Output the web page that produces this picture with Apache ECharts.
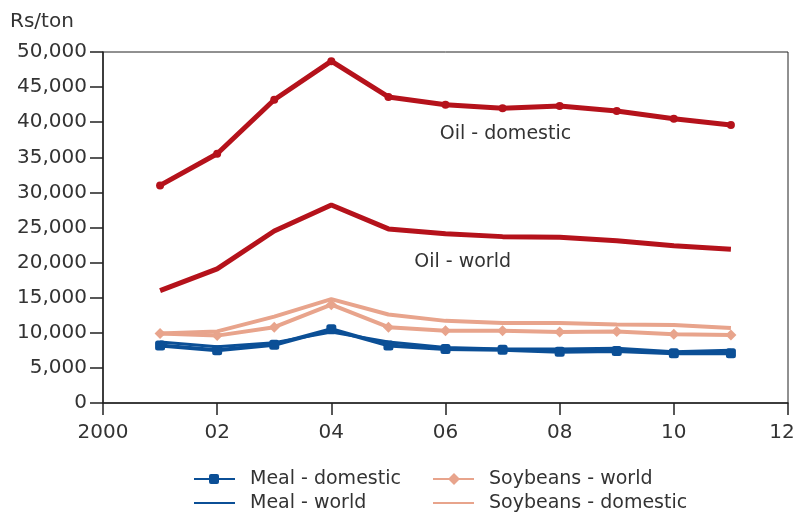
<!DOCTYPE html>
<html>
<head>
<meta charset="utf-8">
<script src="https://cdn.jsdelivr.net/npm/echarts@6/dist/echarts.min.js"></script>
<style>html,body{margin:0;padding:0;background:#fff}#c{width:794px;height:515px}</style>
</head>
<body>
<div id="c"></div>
<script>
var years = [2001, 2002, 2003, 2004, 2005, 2006, 2007, 2008, 2009, 2010, 2011];
var oilDomestic = [31000, 35500, 43200, 48700, 43600, 42500, 42000, 42300, 41600, 40500, 39600];
var oilWorld = [16000, 19100, 24500, 28200, 24800, 24100, 23700, 23600, 23100, 22400, 21900];
var soyWorld = [9900, 9600, 10800, 14000, 10800, 10300, 10300, 10100, 10200, 9800, 9700];
var soyDomestic = [9900, 10200, 12300, 14800, 12600, 11700, 11400, 11400, 11200, 11100, 10700];
var mealDomestic = [8200, 7500, 8300, 10500, 8200, 7700, 7600, 7300, 7400, 7100, 7100];
var mealWorld = [8700, 8000, 8600, 10100, 8700, 7900, 7700, 7700, 7800, 7300, 7500];
var xTickLabels = {2000: '2000', 2002: '02', 2004: '04', 2006: '06', 2008: '08', 2010: '10', 2012: '12'};
var legendItems = [
  { name: 'Meal - domestic', col: 0, row: 0, color: '#0b4f96', marker: 'square' },
  { name: 'Meal - world', col: 0, row: 1, color: '#0b4f96', marker: null },
  { name: 'Soybeans - world', col: 1, row: 0, color: '#e8a48c', marker: 'diamond' },
  { name: 'Soybeans - domestic', col: 1, row: 1, color: '#e8a48c', marker: null }
];

function pairs(vals) { return years.map(function (y, i) { return [y, vals[i]]; }); }

var RED = '#b5121b', SALMON = '#e8a48c', BLUE = '#0b4f96', TXT = '#333';
var FONT = 'DejaVu Sans, sans-serif';

// legend drawn as graphic elements
var legendGraphics = [];
var colX = [194, 433], rowY = [479, 503];
legendItems.forEach(function (it) {
  var x0 = colX[it.col], y0 = rowY[it.row];
  legendGraphics.push({ type: 'line', shape: { x1: x0, y1: y0, x2: x0 + 41, y2: y0 },
    style: { stroke: it.color, lineWidth: 2 } });
  if (it.marker === 'square') {
    legendGraphics.push({ type: 'rect', shape: { x: x0 + 15, y: y0 - 5, width: 10, height: 10, r: 2 },
      style: { fill: it.color } });
  } else if (it.marker === 'diamond') {
    legendGraphics.push({ type: 'polygon', shape: { points: [[x0 + 21, y0 - 6], [x0 + 27, y0], [x0 + 21, y0 + 6], [x0 + 15, y0]] },
      style: { fill: it.color } });
  }
  legendGraphics.push({ type: 'text', x: x0 + 56, y: y0,
    style: { text: it.name, fill: TXT, font: '19px ' + FONT, textVerticalAlign: 'middle', verticalAlign: 'middle' } });
});

var chart = echarts.init(document.getElementById('c'));
chart.setOption({
  animation: false,
  grid: { left: 103, right: 6, top: 52, bottom: 112, show: true, borderColor: '#222', borderWidth: 1,
    outerBoundsMode: 'none', containLabel: false },
  xAxis: {
    type: 'value', min: 2000, max: 2012, interval: 2,
    axisLine: { lineStyle: { color: '#222', width: 1.5 } },
    axisTick: { show: true, length: 12, lineStyle: { color: '#222', width: 1.5 } },
    splitLine: { show: false },
    axisLabel: { color: TXT, fontSize: 20, fontFamily: FONT, margin: 20,
      rich: { last: { fontSize: 20, fontFamily: FONT, color: TXT, padding: [0, 12, 0, 0] } },
      formatter: function (v) { return v === 2012 ? '{last|12}' : (xTickLabels[v] || ''); } }
  },
  yAxis: {
    type: 'value', min: 0, max: 50000, interval: 5000,
    name: 'Rs/ton', nameLocation: 'end', nameGap: 20,
    nameTextStyle: { color: TXT, fontSize: 20, fontFamily: FONT, align: 'left', padding: [0, 0, 0, -93] },
    axisLine: { show: true, lineStyle: { color: '#222', width: 1.5 } },
    axisTick: { show: true, length: 13, lineStyle: { color: '#222', width: 1.5 } },
    splitLine: { show: false },
    axisLabel: { color: TXT, fontSize: 20, fontFamily: FONT, margin: 16,
      formatter: function (v) { return v.toLocaleString('en-US'); } }
  },
  graphic: legendGraphics,
  series: [
    { name: 'Soybeans - domestic', type: 'line', data: pairs(soyDomestic), symbol: 'none',
      lineStyle: { color: SALMON, width: 4 }, itemStyle: { color: SALMON } },
    { name: 'Soybeans - world', type: 'line', data: pairs(soyWorld), symbol: 'diamond', symbolSize: 11,
      lineStyle: { color: SALMON, width: 4 }, itemStyle: { color: SALMON } },
    { name: 'Meal - world', type: 'line', data: pairs(mealWorld), symbol: 'none',
      lineStyle: { color: BLUE, width: 3 }, itemStyle: { color: BLUE } },
    { name: 'Meal - domestic', type: 'line', data: pairs(mealDomestic), symbol: 'roundRect', symbolSize: 10,
      lineStyle: { color: BLUE, width: 4 }, itemStyle: { color: BLUE } },
    { name: 'Oil - world', type: 'line', data: pairs(oilWorld), symbol: 'none',
      lineStyle: { color: RED, width: 5 }, itemStyle: { color: RED },
      markPoint: { symbol: 'circle', symbolSize: 0, silent: true,
        label: { show: true, position: 'inside', color: TXT, fontSize: 19, fontFamily: FONT, formatter: 'Oil - world' },
        data: [{ coord: [2006.3, 20100] }] } },
    { name: 'Oil - domestic', type: 'line', data: pairs(oilDomestic), symbol: 'circle', symbolSize: 8,
      lineStyle: { color: RED, width: 5 }, itemStyle: { color: RED },
      markPoint: { symbol: 'circle', symbolSize: 0, silent: true,
        label: { show: true, position: 'inside', color: TXT, fontSize: 19, fontFamily: FONT, formatter: 'Oil - domestic' },
        data: [{ coord: [2007.05, 38300] }] } }
  ]
});
</script>
</body>
</html>
